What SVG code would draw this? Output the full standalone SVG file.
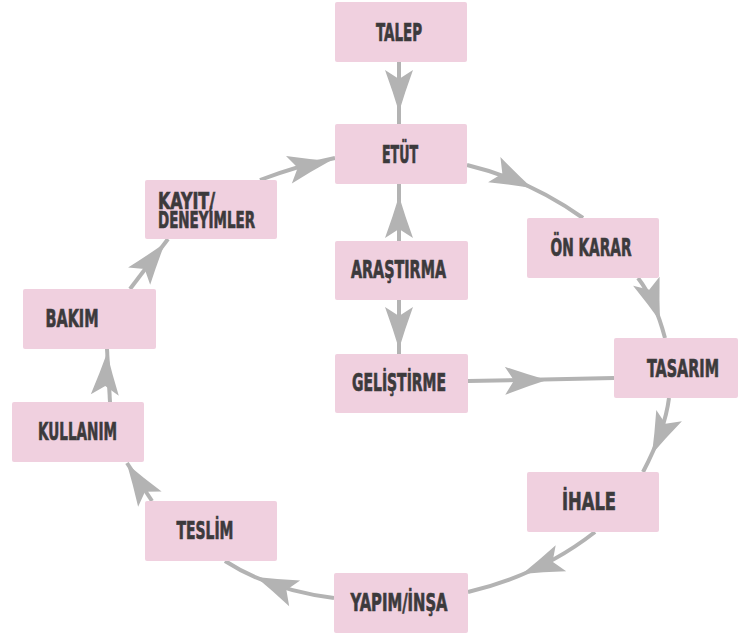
<svg xmlns="http://www.w3.org/2000/svg" xmlns:xlink="http://www.w3.org/1999/xlink" width="738" height="635" viewBox="0 0 738 635">
<style>
.box{fill:#f0d0df;}
.lbl{font-family:"Liberation Sans Narrow","DejaVu Sans Condensed","Liberation Sans",sans-serif;font-weight:bold;font-size:25px;fill:#3c3a3c;stroke:#3c3a3c;stroke-width:0.7;text-anchor:middle;}
.lft{text-anchor:start;font-size:23px;}
.con{fill:none;stroke:#b3b3b3;stroke-width:4;}
.ah{fill:#b3b3b3;}
</style>
<defs>
<path id="ah" class="ah" d="M0,0 Q-20,-6 -42,-14 L-33,0 L-42,14 Q-20,6 0,0 Z"/>
</defs>
<rect width="738" height="635" fill="#ffffff"/>
<g id="connectors">
<path class="con" d="M399,62 L399,124"/>
<use href="#ah" transform="translate(399,112) rotate(90)"/>
<path class="con" d="M399,241 L399,184"/>
<use href="#ah" transform="translate(399,196) rotate(-90)"/>
<path class="con" d="M399,300 L399,354"/>
<use href="#ah" transform="translate(399,349) rotate(90)"/>
<path class="con" d="M468,381 L614,378"/>
<use href="#ah" transform="translate(547,380) rotate(-1)"/>
<path class="con" d="M467,165 Q530,180 583,218"/>
<use href="#ah" transform="translate(532,188) rotate(26)"/>
<path class="con" d="M638,278 Q655,300 665,338"/>
<use href="#ah" transform="translate(660,321) rotate(71)"/>
<path class="con" d="M669,398 Q665,430 643,472"/>
<use href="#ah" transform="translate(652,454) rotate(114)"/>
<path class="con" d="M595,532 Q540,575 468,592"/>
<use href="#ah" transform="translate(522,574) rotate(158)"/>
<path class="con" d="M334,598 Q270,590 225,561"/>
<use href="#ah" transform="translate(256,577) rotate(-157)"/>
<path class="con" d="M152,501 L127,463"/>
<use href="#ah" transform="translate(127,464) rotate(-123)"/>
<path class="con" d="M110,402 L107,349"/>
<use href="#ah" transform="translate(107,353) rotate(-87)"/>
<path class="con" d="M130,289 L168,239"/>
<use href="#ah" transform="translate(165,243) rotate(-52)"/>
<path class="con" d="M260,180 Q300,165 335,158"/>
<use href="#ah" transform="translate(330,161) rotate(-12)"/>
</g>
<g id="talep"><rect class="box" x="335" y="2" width="132" height="60" rx="2"/><text class="lbl" x="399" y="41" textLength="46" lengthAdjust="spacingAndGlyphs">TALEP</text></g>
<g id="etut"><rect class="box" x="335" y="124" width="132" height="60" rx="2"/><text class="lbl" x="400" y="163" textLength="36" lengthAdjust="spacingAndGlyphs">ETÜT</text></g>
<g id="arastirma"><rect class="box" x="335" y="241" width="133" height="59" rx="2"/><text class="lbl" x="398.5" y="278" textLength="95" lengthAdjust="spacingAndGlyphs">ARAŞTIRMA</text></g>
<g id="gelistirme"><rect class="box" x="335" y="354" width="133" height="59" rx="2"/><text class="lbl" x="399" y="391" textLength="94" lengthAdjust="spacingAndGlyphs">GELİŞTİRME</text></g>
<g id="onkarar"><rect class="box" x="527" y="218" width="132" height="60" rx="2"/><text class="lbl" x="591" y="256" textLength="81" lengthAdjust="spacingAndGlyphs">ÖN KARAR</text></g>
<g id="tasarim"><rect class="box" x="614" y="338" width="124" height="60" rx="2"/><text class="lbl" x="683" y="377" textLength="72" lengthAdjust="spacingAndGlyphs">TASARIM</text></g>
<g id="ihale"><rect class="box" x="527" y="472" width="132" height="60" rx="2"/><text class="lbl" x="589" y="510" textLength="54" lengthAdjust="spacingAndGlyphs">İHALE</text></g>
<g id="yapim"><rect class="box" x="334" y="573" width="134" height="60" rx="2"/><text class="lbl" x="399" y="611" textLength="97" lengthAdjust="spacingAndGlyphs">YAPIM/İNŞA</text></g>
<g id="teslim"><rect class="box" x="145" y="501" width="132" height="60" rx="2"/><text class="lbl" x="205" y="539" textLength="57" lengthAdjust="spacingAndGlyphs">TESLİM</text></g>
<g id="kullanim"><rect class="box" x="12" y="402" width="132" height="60" rx="2"/><text class="lbl" x="77.5" y="440" textLength="79" lengthAdjust="spacingAndGlyphs">KULLANIM</text></g>
<g id="bakim"><rect class="box" x="23" y="289" width="133" height="60" rx="2"/><text class="lbl" x="72" y="327" textLength="53" lengthAdjust="spacingAndGlyphs">BAKIM</text></g>
<g id="kayit"><rect class="box" x="145" y="180" width="132" height="59" rx="2"/><text class="lbl lft" x="158" y="209" textLength="57" lengthAdjust="spacingAndGlyphs">KAYIT/</text><text class="lbl lft" x="158" y="228" textLength="97" lengthAdjust="spacingAndGlyphs">DENEYİMLER</text></g>
</svg>
